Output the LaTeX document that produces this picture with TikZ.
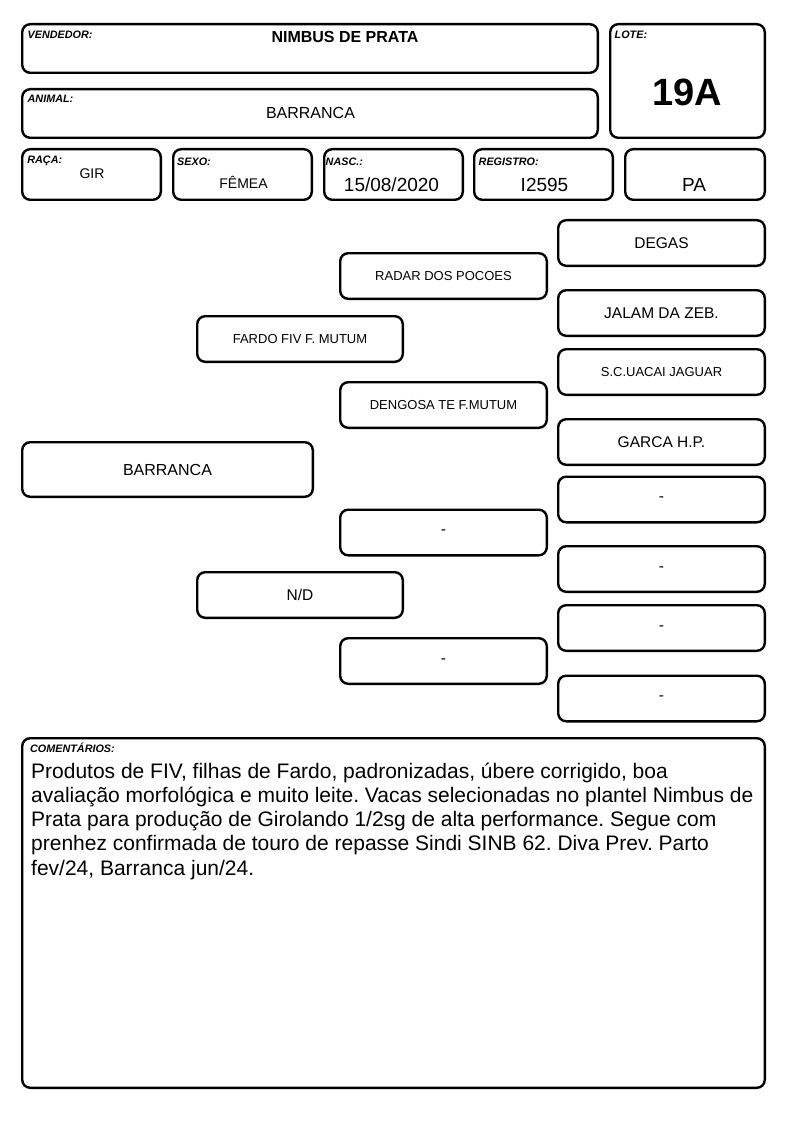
\documentclass[tikz,border=0pt]{standalone}
\usepackage{fontspec}
\setmainfont{Liberation Sans}
\newcommand{\fs}[1]{\fontsize{#1}{#1}\selectfont}
\frenchspacing
\begin{document}
\begin{tikzpicture}[x=1pt,y=-1pt,
  box/.style={draw, line width=2.4pt, rounded corners=8pt, inner sep=0pt},
  pbox/.style={box, minimum width=206.6pt, minimum height=45.6pt, font=\fs{15.5}},
  sbox/.style={pbox, font=\fs{13}},
  lab/.style={anchor=base west, inner sep=0pt, font=\fs{10.8}\bfseries\itshape},
  val/.style={anchor=base, inner sep=0pt},
  cmt/.style={anchor=base west, inner sep=0pt, font=\fs{21}}]
\useasboundingbox (0,0) rectangle (794,1123);
% header boxes
\node[box, minimum width=575.6pt, minimum height=48.6pt] (vend) at (310,48.5) {};
\node[box, minimum width=154.6pt, minimum height=113.6pt] (lote) at (687.5,81) {};
\node[box, minimum width=575.6pt, minimum height=48.6pt] (anim) at (310,113.5) {};
\node[box, minimum width=138.6pt, minimum height=50.6pt] (raca) at (91.5,174.5) {};
\node[box, minimum width=138.6pt, minimum height=50.6pt] (sexo) at (242.5,174.5) {};
\node[box, minimum width=138.6pt, minimum height=50.6pt] (nasc) at (393.5,174.5) {};
\node[box, minimum width=138.6pt, minimum height=50.6pt] (reg) at (543.5,174.5) {};
\node[box, minimum width=139.6pt, minimum height=50.6pt] (pa) at (695,174.5) {};
% labels
\node[lab] (lvend) at (27.5,38.5) {VENDEDOR:};
\node[lab] (llote) at (614.5,38.3) {LOTE:};
\node[lab] (lanim) at (27.5,102.3) {ANIMAL:};
\node[lab] (lraca) at (27.2,163.3) {RAÇA:};
\node[lab] (lsexo) at (177,166) {SEXO:};
\node[lab] (lnasc) at (325.5,165.5) {NASC.:};
\node[lab] (lreg) at (478.5,165.5) {REGISTRO:};
% values
\node[val, font=\fs{16}\bfseries] (tvend) at (345,43) {NIMBUS DE PRATA};
\node[val, font=\fs{16}] (tanim) at (310.5,119) {BARRANCA};
\node[val, font=\fs{38}\bfseries] (tlote) at (687.5,105.5) {19A};
\node[val, font=\fs{14}] (traca) at (92,179) {GIR};
\node[val, font=\fs{14}] (tsexo) at (243.5,189) {FÊMEA};
\node[val, font=\fs{19}] (tnasc) at (391.5,192) {15/08/2020};
\node[val, font=\fs{19}] (treg) at (544.5,192) {I2595};
\node[val, font=\fs{19}] (tpa) at (694,192) {PA};
% pedigree
\node[box, minimum width=290.6pt, minimum height=54.6pt, font=\fs{16}] (p0) at (167.5,469.5) {BARRANCA};
\node[sbox, minimum width=205.6pt] (p1a) at (300,339) {FARDO FIV F. MUTUM};
\node[pbox, minimum width=205.6pt] (p1b) at (300,595) {N/D};
\node[sbox] (p2a) at (443.5,276) {RADAR DOS POCOES};
\node[sbox] (p2b) at (443.5,405) {DENGOSA TE F.MUTUM};
\node[pbox] (p2c) at (443.5,532.5) {-};
\node[pbox] (p2d) at (443.5,661) {-};
\node[pbox] (p3a) at (661.5,243) {DEGAS};
\node[pbox] (p3b) at (661.5,313) {JALAM DA ZEB.};
\node[sbox] (p3c) at (661.5,372) {S.C.UACAI JAGUAR};
\node[pbox] (p3d) at (661.5,442) {GARCA H.P.};
\node[pbox] (p3e) at (661.5,499.5) {-};
\node[pbox] (p3f) at (661.5,569) {-};
\node[pbox] (p3g) at (661.5,628) {-};
\node[pbox] (p3h) at (661.5,698.5) {-};
% comments
\node[box, minimum width=742.6pt, minimum height=349.6pt] (com) at (393.5,913) {};
\node[lab] (lcom) at (30,752.7) {COMENTÁRIOS:};
\node[cmt] (c1) at (31,778) {Produtos de FIV, filhas de Fardo, padronizadas, úbere corrigido, boa};
\node[cmt] (c2) at (31,802.25) {avaliação morfológica e muito leite. Vacas selecionadas no plantel Nimbus de};
\node[cmt] (c3) at (31,826.5) {Prata para produção de Girolando 1/2sg de alta performance. Segue com};
\node[cmt] (c4) at (31,850.75) {prenhez confirmada de touro de repasse Sindi SINB 62. Diva Prev. Parto};
\node[cmt] (c5) at (31,875) {fev/24, Barranca jun/24.};
\end{tikzpicture}
\end{document}
